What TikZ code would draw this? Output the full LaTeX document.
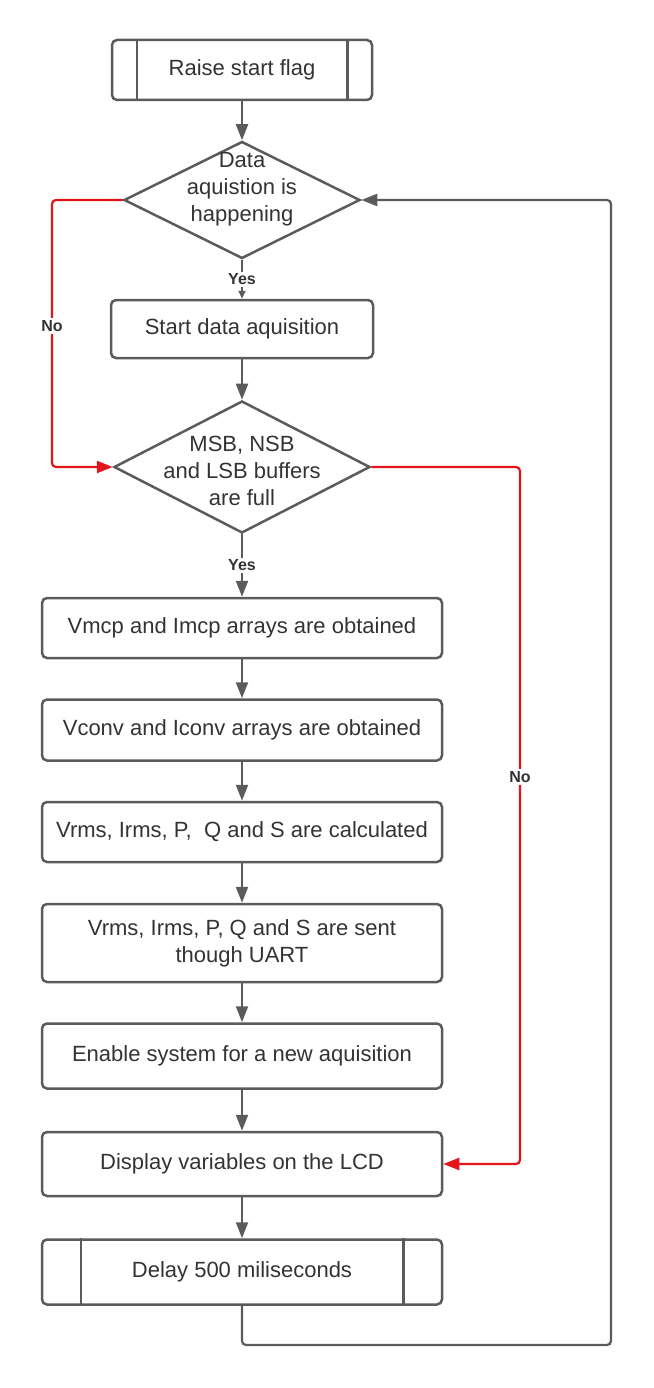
\documentclass[tikz,border=0pt]{standalone}
\usepackage{fontspec}
\setmainfont{Liberation Sans}
\usetikzlibrary{shapes.geometric,arrows.meta}
\definecolor{linegray}{HTML}{5B5B5B}
\definecolor{textgray}{HTML}{333333}
\definecolor{flowred}{HTML}{E3151A}
\begin{document}
\begin{tikzpicture}[x=1pt, y=1pt,
		font=\fontsize{22}{27}\selectfont, text=textgray,
		box/.style={rectangle, rounded corners=5pt, draw=linegray, line width=2.5pt, minimum width=400pt, align=center},
		choice/.style={diamond, draw=linegray, line width=2.5pt, inner sep=0pt},
		flow/.style={draw=linegray, line width=2.2pt, -{Triangle[length=16pt,width=12pt]}},
		nope/.style={draw=flowred, line width=2.2pt, rounded corners=4pt, -{Triangle[length=16pt,width=12pt]}},
		lbl/.style={fill=white, inner sep=2pt, font=\fontsize{16}{18}\bfseries\selectfont}]
	\useasboundingbox (0,0) rectangle (653,-1388);
	\node (start) at (242,-70) [box, minimum width=260pt, minimum height=60pt] {Raise start flag};
	\node (d1) at (242,-200) [choice, minimum width=236pt, minimum height=117pt] {};
	\node (d1t) at (242,-189) [align=center] {Data\\aquistion is\\happening};
	\node (acq) at (242,-329) [box, minimum width=262pt, minimum height=58pt] {Start data aquisition};
	\node (d2) at (242,-467) [choice, minimum width=256pt, minimum height=132pt] {};
	\node (d2t) at (242,-471) [align=center] {MSB, NSB\\and LSB buffers\\are full};
	\node (b1) at (242,-628) [box, minimum height=60pt] {Vmcp and Imcp arrays are obtained};
	\node (b2) at (242,-730) [box, minimum height=61pt] {Vconv and Iconv arrays are obtained};
	\node (b3) at (242,-832) [box, minimum height=60pt] {Vrms, Irms, P,\ \ Q and S are calculated};
	\node (b4) at (242,-943) [box, minimum height=78pt] {Vrms, Irms, P, Q and S are sent\\though UART};
	\node (b5) at (242,-1056) [box, minimum height=65pt] {Enable system for a new aquisition};
	\node (b6) at (242,-1164) [box, minimum height=64pt] {Display variables on the LCD};
	\node (delay) at (242,-1272) [box, minimum height=65pt] {Delay 500 miliseconds};
	% side bars of the subroutine boxes
	\draw[linegray, line width=2.5pt] ([xshift=26pt]start.north west) -- ([xshift=26pt]start.south west);
	\draw[linegray, line width=2.5pt] ([xshift=-26pt]start.north east) -- ([xshift=-26pt]start.south east);
	\draw[linegray, line width=2.5pt] ([xshift=40pt]delay.north west) -- ([xshift=40pt]delay.south west);
	\draw[linegray, line width=2.5pt] ([xshift=-40pt]delay.north east) -- ([xshift=-40pt]delay.south east);
	% main flow
	\draw[flow] (start) -- (d1);
	\draw[flow, -{Triangle[length=8pt,width=7pt]}] (d1) -- node[lbl] (yes1) {Yes} (acq);
	\draw[flow] (acq) -- (d2);
	\draw[flow] (d2) -- node[lbl] (yes2) {Yes} (b1);
	\draw[flow] (b1) -- (b2);
	\draw[flow] (b2) -- (b3);
	\draw[flow] (b3) -- (b4);
	\draw[flow] (b4) -- (b5);
	\draw[flow] (b5) -- (b6);
	\draw[flow] (b6) -- (delay);
	% loop back
	\coordinate (loop) at (611,-1345);
	\draw[flow, rounded corners=4pt] (delay.south) |- (loop) |- (d1.east);
	% no branches
	\coordinate (leftno) at (52,-326);
	\coordinate (rightno) at (520,-777);
	\draw[nope] (d1.west) -| (leftno) |- (d2.west);
	\draw[nope] (d2.east) -| (rightno) |- (b6.east);
	\node (no1) at (leftno) [lbl] {No};
	\node (no2) at (rightno) [lbl] {No};
\end{tikzpicture}
\end{document}
